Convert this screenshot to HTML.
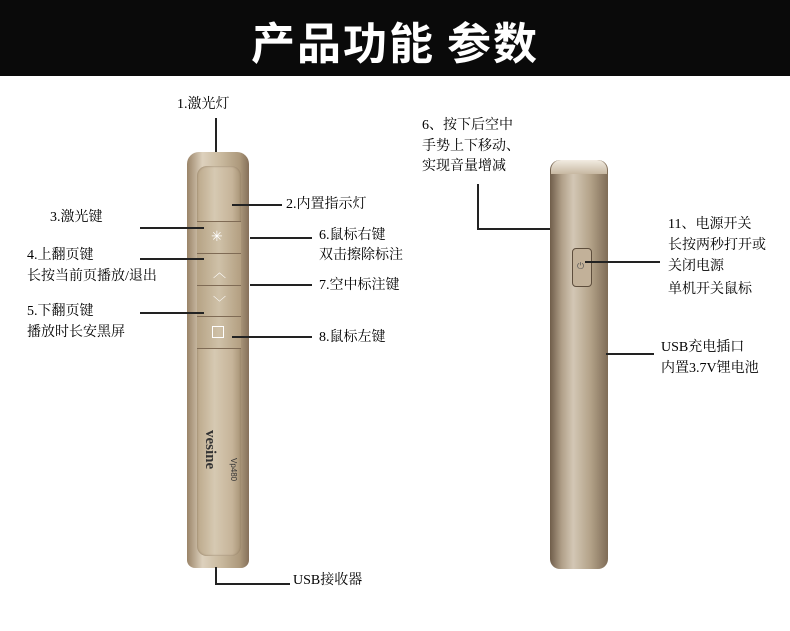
<!DOCTYPE html>
<html><head><meta charset="utf-8"><style>
body{margin:0;width:790px;height:631px;background:#fff;position:relative;overflow:hidden;font-family:"Liberation Serif","Noto Serif CJK SC","Noto Sans CJK SC",serif;}
.t{position:absolute;font-size:14px;color:#000;line-height:20px;white-space:nowrap}
.l{position:absolute;background:#222}
</style></head><body>
<div style="position:absolute;left:0;top:0;width:790px;height:76px;background:#0a0a0a"></div>
<div style="position:absolute;left:0;top:8px;width:790px;text-align:center;color:#fff;font:bold 44px 'Noto Sans CJK SC',sans-serif;letter-spacing:2px">产品功能 参数</div>

<!-- left device -->
<div style="position:absolute;left:187px;top:152px;width:62px;height:416px;border-radius:12px 12px 8px 8px;background:linear-gradient(90deg,#9a8468,#ddd1bd 25%,#c9b99e 55%,#ad997c 85%,#85705a);"></div>
<div style="position:absolute;left:197px;top:166px;width:44px;height:390px;border-radius:10px;background:linear-gradient(90deg,#bca98b,#d6c9b2 40%,#c6b499 80%,#a89476);box-shadow:inset 0 0 2px #8c7860"></div>
<div style="position:absolute;left:197px;top:222px;width:44px;height:126px;background:linear-gradient(90deg,#b6a385,#cfc1a8 50%,#b39f81)"></div>
<div class="l" style="left:197px;top:221px;width:44px;height:1px;background:#7f6b55"></div>
<div class="l" style="left:197px;top:253px;width:44px;height:1px;background:#7f6b55"></div>
<div class="l" style="left:197px;top:285px;width:44px;height:1px;background:#7f6b55"></div>
<div class="l" style="left:197px;top:316px;width:44px;height:1px;background:#7f6b55"></div>
<div class="l" style="left:197px;top:348px;width:44px;height:1px;background:#7f6b55"></div>
<div style="position:absolute;left:211px;top:229px;color:#fff;font-size:14px">✳</div>
<div style="position:absolute;left:213px;top:262px;color:#fff;font-size:13px">︿</div>
<div style="position:absolute;left:213px;top:292px;color:#fff;font-size:13px">﹀</div>
<div style="position:absolute;left:212px;top:326px;width:10px;height:10px;border:1px solid #fff"></div>
<div style="position:absolute;left:218px;top:430px;transform:rotate(90deg);transform-origin:0 0;font:bold 15px 'Liberation Serif',serif;color:#333">vesine</div>
<div style="position:absolute;left:238px;top:458px;transform:rotate(90deg);transform-origin:0 0;font:8px 'Liberation Sans',sans-serif;color:#333">Vp480</div>

<!-- right device -->
<div style="position:absolute;left:550px;top:160px;width:58px;height:409px;border-radius:10px;background:linear-gradient(90deg,#6f5d4a,#b09f88 20%,#d3c7b5 40%,#b3a288 70%,#7f6c57);"></div>
<div style="position:absolute;left:551px;top:160px;width:56px;height:14px;border-radius:10px 10px 0 0;background:linear-gradient(#f2ece2,#c7b8a2)"></div>
<div style="position:absolute;left:572px;top:248px;width:18px;height:37px;border-radius:4px;border:1px solid #5e4e3d;background:#c2b199"></div>
<div style="position:absolute;left:577px;top:261px;font-size:9px;color:#555">⏻</div>

<!-- connectors left -->
<div class="l" style="left:215px;top:118px;width:2px;height:34px"></div>
<div class="t" style="left:177px;top:95px">1.激光灯</div>
<div class="l" style="left:232px;top:204px;width:50px;height:2px"></div>
<div class="t" style="left:286px;top:195px">2.内置指示灯</div>
<div class="l" style="left:140px;top:227px;width:64px;height:2px"></div>
<div class="t" style="left:50px;top:208px">3.激光键</div>
<div class="l" style="left:140px;top:258px;width:64px;height:2px"></div>
<div class="t" style="left:27px;top:246px">4.上翻页键</div>
<div class="t" style="left:27px;top:267px">长按当前页播放/退出</div>
<div class="l" style="left:140px;top:312px;width:64px;height:2px"></div>
<div class="t" style="left:27px;top:302px">5.下翻页键</div>
<div class="t" style="left:27px;top:323px">播放时长安黑屏</div>
<div class="l" style="left:250px;top:237px;width:62px;height:2px"></div>
<div class="t" style="left:319px;top:226px">6.鼠标右键</div>
<div class="t" style="left:319px;top:246px">双击擦除标注</div>
<div class="l" style="left:250px;top:284px;width:62px;height:2px"></div>
<div class="t" style="left:319px;top:276px">7.空中标注键</div>
<div class="l" style="left:232px;top:336px;width:80px;height:2px"></div>
<div class="t" style="left:319px;top:328px">8.鼠标左键</div>
<div class="l" style="left:215px;top:567px;width:2px;height:18px"></div>
<div class="l" style="left:215px;top:583px;width:75px;height:2px"></div>
<div class="t" style="left:293px;top:571px">USB接收器</div>

<!-- connectors right -->
<div class="t" style="left:422px;top:116px">6、按下后空中</div>
<div class="t" style="left:422px;top:137px">手势上下移动、</div>
<div class="t" style="left:422px;top:157px">实现音量增减</div>
<div class="l" style="left:477px;top:184px;width:2px;height:46px"></div>
<div class="l" style="left:477px;top:228px;width:73px;height:2px"></div>
<div class="l" style="left:585px;top:261px;width:75px;height:2px"></div>
<div class="t" style="left:668px;top:215px">11、电源开关</div>
<div class="t" style="left:668px;top:236px">长按两秒打开或</div>
<div class="t" style="left:668px;top:257px">关闭电源</div>
<div class="t" style="left:668px;top:280px">单机开关鼠标</div>
<div class="l" style="left:606px;top:353px;width:48px;height:2px"></div>
<div class="t" style="left:661px;top:338px">USB充电插口</div>
<div class="t" style="left:661px;top:359px">内置3.7V锂电池</div>
</body></html>
